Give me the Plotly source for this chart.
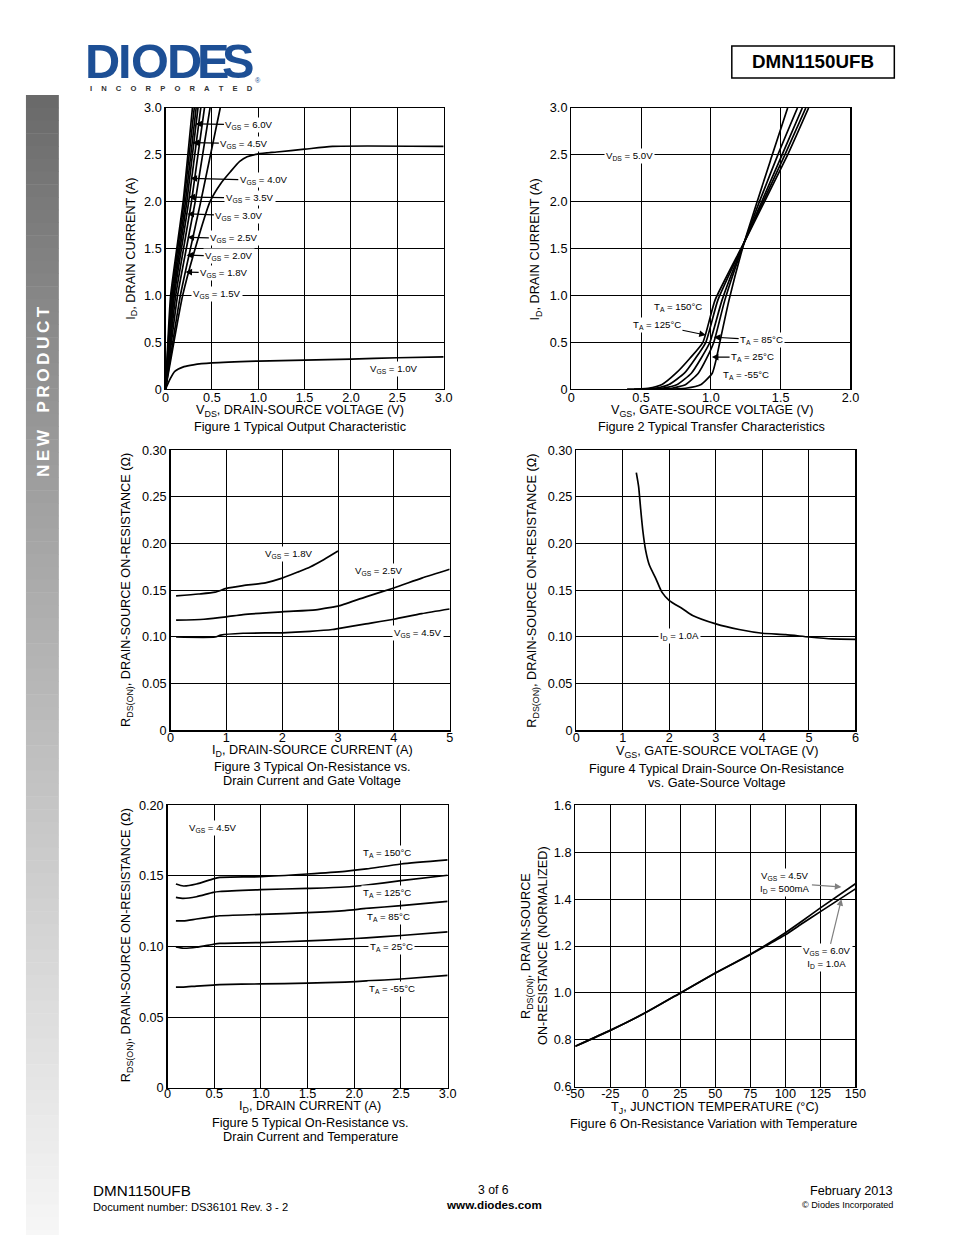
import plotly.graph_objects as go

W, H = 954, 1235
FONT = "Liberation Sans, Arial, sans-serif"

# ---------------- DATA ----------------
# Figure 1 : Typical output characteristic (I_D vs V_DS)
f1_vds_1v0 = [0.0, 0.05, 0.10, 0.20, 0.30, 0.50, 1.00, 1.50, 2.00, 2.50, 3.00]
f1_id_1v0 = [0.0, 0.11, 0.19, 0.24, 0.26, 0.28, 0.30, 0.31, 0.32, 0.335, 0.345]
f1_vds_1v5 = [0.0, 0.09, 0.185, 0.32, 0.48, 0.60, 0.70, 0.80, 0.88, 1.00, 1.20, 1.50, 1.80, 3.00]
f1_id_1v5 = [0.0, 0.50, 1.00, 1.50, 2.00, 2.20, 2.32, 2.43, 2.48, 2.51, 2.53, 2.56, 2.59, 2.59]
f1_id_steep = [0.0, 1.0, 2.0, 3.0]
f1_vds_1v8 = [0.0, 0.160, 0.38, 0.59]
f1_vds_2v0 = [0.0, 0.130, 0.32, 0.48]
f1_vds_2v5 = [0.0, 0.110, 0.28, 0.42]
f1_vds_3v0 = [0.0, 0.095, 0.25, 0.38]
f1_vds_3v5 = [0.0, 0.085, 0.23, 0.35]
f1_vds_4v0 = [0.0, 0.075, 0.215, 0.33]
f1_vds_4v5 = [0.0, 0.065, 0.20, 0.31]
f1_vds_6v0 = [0.0, 0.055, 0.19, 0.29]

# Figure 2 : Typical transfer characteristics (I_D vs V_GS)
f2_id = [0.0, 0.01, 0.05, 0.17, 0.33, 0.50, 0.95, 1.57, 2.50, 3.00]
f2_vgs_150 = [0.40, 0.55, 0.65, 0.75, 0.85, 0.943, 1.03, 1.24, 1.55, 1.70]
f2_vgs_125 = [0.45, 0.60, 0.70, 0.81, 0.89, 0.964, 1.05, 1.24, 1.53, 1.68]
f2_vgs_85 = [0.50, 0.65, 0.76, 0.86, 0.93, 0.993, 1.08, 1.24, 1.51, 1.655]
f2_vgs_25 = [0.55, 0.72, 0.82, 0.91, 0.97, 1.021, 1.10, 1.24, 1.48, 1.62]
f2_vgs_m55 = [0.65, 0.82, 0.93, 1.01, 1.04, 1.064, 1.13, 1.24, 1.44, 1.55]

# Figure 3 : R_DS(ON) vs drain current and gate voltage
f3_id_1v8 = [0.1, 0.5, 0.8, 1.0, 1.3, 1.7, 2.0, 2.3, 2.5, 2.75, 3.0]
f3_r_1v8 = [0.144, 0.146, 0.148, 0.152, 0.155, 0.158, 0.163, 0.170, 0.175, 0.183, 0.192]
f3_id_2v5 = [0.1, 0.6, 1.0, 1.3, 2.0, 2.6, 2.9, 3.0, 3.5, 4.0, 4.5, 5.0]
f3_r_2v5 = [0.118, 0.119, 0.1215, 0.124, 0.127, 0.129, 0.132, 0.133, 0.143, 0.1525, 0.163, 0.1725]
f3_id_4v5 = [0.1, 0.8, 0.9, 1.3, 2.0, 2.5, 2.9, 3.0, 3.5, 4.0, 4.5, 5.0]
f3_r_4v5 = [0.100, 0.100, 0.102, 0.104, 0.1045, 0.106, 0.108, 0.109, 0.114, 0.119, 0.125, 0.130]

# Figure 4 : R_DS(ON) vs gate-source voltage (I_D = 1.0A)
f4_vgs = [1.29, 1.34, 1.38, 1.43, 1.49, 1.57, 1.71, 1.84, 2.0, 2.29, 2.5, 3.0, 3.5, 4.0, 4.5, 5.0, 5.5, 6.0]
f4_r = [0.276, 0.261, 0.239, 0.214, 0.193, 0.177, 0.1625, 0.148, 0.139, 0.130, 0.123, 0.114,
        0.108, 0.104, 0.1025, 0.100, 0.098, 0.0975]

# Figure 5 : R_DS(ON) vs drain current and temperature (V_GS = 4.5V)
f5_id = [0.09, 0.17, 0.31, 0.49, 0.56, 1.0, 1.5, 1.9, 2.13, 2.5, 3.0]
f5_r_150 = [0.1443, 0.1429, 0.1443, 0.1480, 0.1490, 0.1495, 0.1514, 0.1533, 0.1550, 0.1585, 0.1614]
f5_r_125 = [0.1348, 0.1341, 0.1353, 0.1384, 0.1390, 0.1403, 0.1412, 0.1422, 0.1436, 0.1467, 0.1505]
f5_r_85 = [0.1182, 0.1182, 0.1195, 0.1212, 0.1218, 0.1228, 0.1240, 0.1255, 0.1270, 0.1290, 0.1320]
f5_r_25 = [0.0998, 0.0988, 0.0995, 0.1016, 0.1022, 0.1028, 0.1040, 0.1052, 0.1062, 0.1078, 0.1104]
f5_r_m55 = [0.0713, 0.0713, 0.0720, 0.0727, 0.0730, 0.0735, 0.0740, 0.0748, 0.0756, 0.0770, 0.0796]

# Figure 6 : normalized R_DS(ON) vs junction temperature
f6_tj = [-50, -25, 0, 25, 50, 75, 85, 100, 112, 125, 150]
f6_r_4v5 = [0.772, 0.840, 0.915, 1.000, 1.085, 1.165, 1.200, 1.257, 1.307, 1.363, 1.466]
f6_r_6v0 = [0.772, 0.840, 0.915, 1.000, 1.085, 1.163, 1.197, 1.248, 1.296, 1.347, 1.444]

# tick labels
f1_xt = [0, 0.5, 1.0, 1.5, 2.0, 2.5, 3.0]
f1_xl = ["0", "0.5", "1.0", "1.5", "2.0", "2.5", "3.0"]
f1_yt = [0, 0.5, 1.0, 1.5, 2.0, 2.5, 3.0]
f1_yl = ["0", "0.5", "1.0", "1.5", "2.0", "2.5", "3.0"]
f2_xt = [0, 0.5, 1.0, 1.5, 2.0]
f2_xl = ["0", "0.5", "1.0", "1.5", "2.0"]
f3_xt = [0, 1, 2, 3, 4, 5]
f3_xl = ["0", "1", "2", "3", "4", "5"]
f34_yt = [0, 0.05, 0.10, 0.15, 0.20, 0.25, 0.30]
f34_yl = ["0", "0.05", "0.10", "0.15", "0.20", "0.25", "0.30"]
f4_xt = [0, 1, 2, 3, 4, 5, 6]
f4_xl = ["0", "1", "2", "3", "4", "5", "6"]
f5_yt = [0, 0.05, 0.10, 0.15, 0.20]
f5_yl = ["0", "0.05", "0.10", "0.15", "0.20"]
f6_xt = [-50, -25, 0, 25, 50, 75, 100, 125, 150]
f6_xl = ["-50", "-25", "0", "25", "50", "75", "100", "125", "150"]
f6_yt = [0.6, 0.8, 1.0, 1.2, 1.4, 1.6, 1.8]
f6_yl = ["0.6", "0.8", "1.0", "1.2", "1.4", "1.8", "1.6"]

# ---------------- HELPERS ----------------
# measured relation between page pixels and the photographed picture
OX, SX = 8.0, 0.982
OY, SY = 7.1, 0.988
FS = 1.015


def xp(x):
    return ((x - OX) / SX) / W


def yp(y):
    return 1 - ((y - OY) / SY) / H


def fs(s):
    return round(s * FS, 2)


fig = go.Figure()

BOXES = {1: (165, 444, 108, 389), 2: (572, 852, 108, 389), 3: (170, 450, 450, 730),
         4: (577, 857, 450, 730), 5: (167, 448, 805, 1087), 6: (576, 857, 805, 1086)}


def ax_names(i):
    s = "" if i == 1 else str(i)
    return "x" + s, "y" + s


def curve(i, x, y, smooth=0.6):
    xa, ya = ax_names(i)
    fig.add_trace(go.Scatter(x=x, y=y, mode="lines", xaxis=xa, yaxis=ya,
                             line=dict(color="black", width=1.7, shape="spline", smoothing=smooth),
                             hoverinfo="skip", showlegend=False))


def setup_axes(i, xr, yr, xt, xl, yt, yl, standoff=-4):
    x0, x1, y0, y1 = BOXES[i]
    xa, ya = ax_names(i)
    common = dict(showgrid=True, gridcolor="black", gridwidth=1, zeroline=False,
                  showline=True, mirror=True, linecolor="black", linewidth=1.3,
                  ticks="", tickfont=dict(size=fs(12.5), color="black", family=FONT),
                  fixedrange=True)
    fig.layout["xaxis" + xa[1:]] = dict(domain=[xp(x0), xp(x1)], anchor=ya, range=xr,
                                        tickmode="array", tickvals=xt, ticktext=xl,
                                        ticklabelstandoff=standoff, **common)
    fig.layout["yaxis" + ya[1:]] = dict(domain=[yp(y1), yp(y0)], anchor=xa, range=yr,
                                        tickmode="array", tickvals=yt, ticktext=yl, **common)


ANN = []


def label(i, text, x, y, ax=None, ay=None, bg=True, color="black", size=9.5, acolor="black"):
    xa, ya = ax_names(i)
    d = dict(text=text, x=x, y=y, xref=xa, yref=ya, font=dict(size=fs(size), color=color, family=FONT),
             bgcolor="white" if bg else None, borderpad=1)
    if ax is None:
        d["showarrow"] = False
    else:
        d.update(showarrow=True, ax=ax / SX, ay=ay / SY, arrowhead=2, arrowsize=1.1, arrowwidth=1.2,
                 arrowcolor=acolor, standoff=0)
    ANN.append(d)


def ptext(text, x, y, size=12.5, angle=0, xanchor="center", bold=False, color="black", yanchor="middle"):
    ANN.append(dict(text=("<b>%s</b>" % text) if bold else text, x=xp(x), y=yp(y), xref="paper",
                    yref="paper", showarrow=False, textangle=angle, xanchor=xanchor, yanchor=yanchor,
                    font=dict(size=fs(size), color=color, family=FONT)))


# ---------------- FIGURE 1 ----------------
setup_axes(1, [0, 3], [0, 3], f1_xt, f1_xl, f1_yt, f1_yl)
curve(1, f1_vds_1v0, f1_id_1v0)
curve(1, f1_vds_1v5, f1_id_1v5)
for v in (f1_vds_1v8, f1_vds_2v0, f1_vds_2v5, f1_vds_3v0, f1_vds_3v5, f1_vds_4v0, f1_vds_4v5, f1_vds_6v0):
    curve(1, v, f1_id_steep, smooth=0.4)
label(1, "V<sub>GS</sub> = 6.0V", 0.323, 2.83, 53, 1)
label(1, "V<sub>GS</sub> = 4.5V", 0.29, 2.63, 51, 1)
label(1, "V<sub>GS</sub> = 4.0V", 0.269, 2.25, 72, 2)
label(1, "V<sub>GS</sub> = 3.5V", 0.247, 2.05, 60, 1)
label(1, "V<sub>GS</sub> = 3.0V", 0.237, 1.87, 51, 2)
label(1, "V<sub>GS</sub> = 2.5V", 0.237, 1.62, 46, 1)
label(1, "V<sub>GS</sub> = 2.0V", 0.226, 1.43, 42, 1)
label(1, "V<sub>GS</sub> = 1.8V", 0.215, 1.25, 38, 1)
label(1, "V<sub>GS</sub> = 1.5V", 0.56, 1.01)
label(1, "V<sub>GS</sub> = 1.0V", 2.46, 0.22)
ptext("I<sub>D</sub>, DRAIN CURRENT (A)", 131, 249, angle=-90)
ptext("V<sub>DS</sub>, DRAIN-SOURCE VOLTAGE (V)", 300, 411)
ptext("Figure 1 Typical Output Characteristic", 300, 427)

# ---------------- FIGURE 2 ----------------
setup_axes(2, [0, 2], [0, 3], f2_xt, f2_xl, f1_yt, f1_yl)
for v in (f2_vgs_150, f2_vgs_125, f2_vgs_85, f2_vgs_25, f2_vgs_m55):
    curve(2, v, f2_id, smooth=0.5)
label(2, "V<sub>DS</sub> = 5.0V", 0.414, 2.488)
label(2, "T<sub>A</sub> = 150°C", 0.764, 0.875)
label(2, "T<sub>A</sub> = 125°C", 0.964, 0.577, -48, -10)
label(2, "T<sub>A</sub> = 85°C", 1.021, 0.555, 47, 3)
label(2, "T<sub>A</sub> = 25°C", 1.007, 0.342, 40, 0)
label(2, "T<sub>A</sub> = -55°C", 1.25, 0.149)
ptext("I<sub>D</sub>, DRAIN CURRENT (A)", 537, 249, angle=-90)
ptext("V<sub>GS</sub>, GATE-SOURCE VOLTAGE (V)", 713, 411)
ptext("Figure 2 Typical Transfer Characteristics", 713, 427)

# ---------------- FIGURE 3 ----------------
setup_axes(3, [0, 5], [0, 0.30], f3_xt, f3_xl, f34_yt, f34_yl, standoff=-5)
curve(3, f3_id_1v8, f3_r_1v8)
curve(3, f3_id_2v5, f3_r_2v5)
curve(3, f3_id_4v5, f3_r_4v5)
label(3, "V<sub>GS</sub> = 1.8V", 2.125, 0.1886)
label(3, "V<sub>GS</sub> = 2.5V", 3.73, 0.171)
label(3, "V<sub>GS</sub> = 4.5V", 4.43, 0.104)
ptext("R<sub>DS(ON)</sub>, DRAIN-SOURCE ON-RESISTANCE (Ω)", 127, 590, angle=-90)
ptext("I<sub>D</sub>, DRAIN-SOURCE CURRENT (A)", 312, 751)
ptext("Figure 3 Typical On-Resistance vs.", 312, 767)
ptext("Drain Current and Gate Voltage", 312, 781)

# ---------------- FIGURE 4 ----------------
setup_axes(4, [0, 6], [0, 0.30], f4_xt, f4_xl, f34_yt, f34_yl, standoff=-5)
curve(4, f4_vgs, f4_r)
label(4, "I<sub>D</sub> = 1.0A", 2.21, 0.1007)
ptext("R<sub>DS(ON)</sub>, DRAIN-SOURCE ON-RESISTANCE (Ω)", 534, 590, angle=-90)
ptext("V<sub>GS</sub>, GATE-SOURCE VOLTAGE (V)", 718, 752)
ptext("Figure 4 Typical Drain-Source On-Resistance", 718, 769)
ptext("vs. Gate-Source Voltage", 718, 783)

# ---------------- FIGURE 5 ----------------
setup_axes(5, [0, 3], [0, 0.20], f1_xt, f1_xl, f5_yt, f5_yl, standoff=-6)
for r in (f5_r_150, f5_r_125, f5_r_85, f5_r_25, f5_r_m55):
    curve(5, f5_id, r)
label(5, "V<sub>GS</sub> = 4.5V", 0.49, 0.184)
label(5, "T<sub>A</sub> = 150°C", 2.35, 0.166)
label(5, "T<sub>A</sub> = 125°C", 2.35, 0.138)
label(5, "T<sub>A</sub> = 85°C", 2.37, 0.1206)
label(5, "T<sub>A</sub> = 25°C", 2.40, 0.100)
label(5, "T<sub>A</sub> = -55°C", 2.40, 0.0702)
ptext("R<sub>DS(ON)</sub>, DRAIN-SOURCE ON-RESISTANCE (Ω)", 126, 945, angle=-90)
ptext("I<sub>D</sub>, DRAIN CURRENT (A)", 310, 1106)
ptext("Figure 5 Typical On-Resistance vs.", 310, 1122)
ptext("Drain Current and Temperature", 310, 1136)

# ---------------- FIGURE 6 ----------------
setup_axes(6, [-50, 150], [0.6, 1.8], f6_xt, f6_xl, f6_yt, f6_yl, standoff=-5)
curve(6, f6_tj, f6_r_4v5, smooth=0.4)
curve(6, f6_tj, f6_r_6v0, smooth=0.4)
label(6, "V<sub>GS</sub> = 4.5V<br>I<sub>D</sub> = 500mA", 140, 1.452, -55, -4, acolor="#808080")
label(6, "V<sub>GS</sub> = 6.0V<br>I<sub>D</sub> = 1.0A", 140, 1.40, -14, 58, acolor="#808080")
ptext("R<sub>DS(ON)</sub>, DRAIN-SOURCE", 527, 945, angle=-90)
ptext("ON-RESISTANCE (NORMALIZED)", 543, 945, angle=-90)
ptext("T<sub>J</sub>, JUNCTION TEMPERATURE (°C)", 716, 1107)
ptext("Figure 6 On-Resistance Variation with Temperature", 715, 1123)

# ---------------- PAGE DECORATION ----------------
shapes = []
# left sidebar gradient
n = 90
top, bot = 95, 1242
for k in range(n):
    y0 = top + (bot - top) * k / n
    y1 = top + (bot - top) * (k + 1) / n + 0.5
    g = int(106 + (247 - 106) * (k / (n - 1)) ** 0.9)
    shapes.append(dict(type="rect", xref="paper", yref="paper", x0=xp(25), x1=xp(58), y0=yp(y1), y1=yp(y0),
                       fillcolor="rgb(%d,%d,%d)" % (g, g, g), line=dict(width=0), layer="below"))
ptext("N\u2009E\u2009W\u2003P\u2009R\u2009O\u2009D\u2009U\u2009C\u2009T", 42, 391, size=17, angle=-90,
      bold=True, color="white")

# part number box
shapes.append(dict(type="rect", xref="paper", yref="paper", x0=xp(733), x1=xp(896), y0=yp(78), y1=yp(46),
                   line=dict(color="black", width=1.5), fillcolor="rgba(0,0,0,0)"))
ptext("DMN1150UFB", 814, 62, size=18.5, bold=True)

# logo
BLUE = "#1d4f95"
for ch, cx in zip("DIODES", (102, 124, 149, 184, 213, 238)):
    ANN.append(dict(text="<b>%s</b>" % ch, x=xp(cx), y=yp(61), xref="paper", yref="paper", showarrow=False,
                    font=dict(size=fs(48), color=BLUE, family=FONT), xanchor="center", yanchor="middle"))
shapes.append(dict(type="line", xref="paper", yref="paper", x0=xp(86), x1=xp(252), y0=yp(62), y1=yp(62),
                   line=dict(color="white", width=2)))
ANN.append(dict(text="<b>" + "\u2003\u2009".join("INCORPORATED") + "</b>", x=xp(87), y=yp(82.5),
                xref="paper", yref="paper", showarrow=False, xanchor="left",
                font=dict(size=fs(7.5), color="#333333", family=FONT)))
ANN.append(dict(text="®", x=xp(253), y=yp(75), xref="paper", yref="paper", showarrow=False,
                font=dict(size=fs(7), color=BLUE, family=FONT)))

# footer
ptext("DMN1150UFB", 90, 1190, size=15, xanchor="left")
ptext("Document number: DS36101 Rev. 3 - 2", 90, 1206, size=11, xanchor="left")
ptext("3 of 6", 494, 1189, size=12)
ptext("www.diodes.com", 494, 1204, size=11.5, bold=True)
ptext("February 2013", 897, 1190, size=12.5, xanchor="right")
ptext("© Diodes Incorporated", 897, 1204, size=9, xanchor="right")

fig.update_layout(width=W, height=H, margin=dict(l=0, r=0, t=0, b=0), paper_bgcolor="white",
                  plot_bgcolor="white", showlegend=False, annotations=ANN, shapes=shapes,
                  font=dict(family=FONT, color="black"), hovermode=False)

fig.write_html("out.html", config={"displayModeBar": False, "staticPlot": True},
               post_script="document.body.style.margin='0';document.body.style.padding='0';")
